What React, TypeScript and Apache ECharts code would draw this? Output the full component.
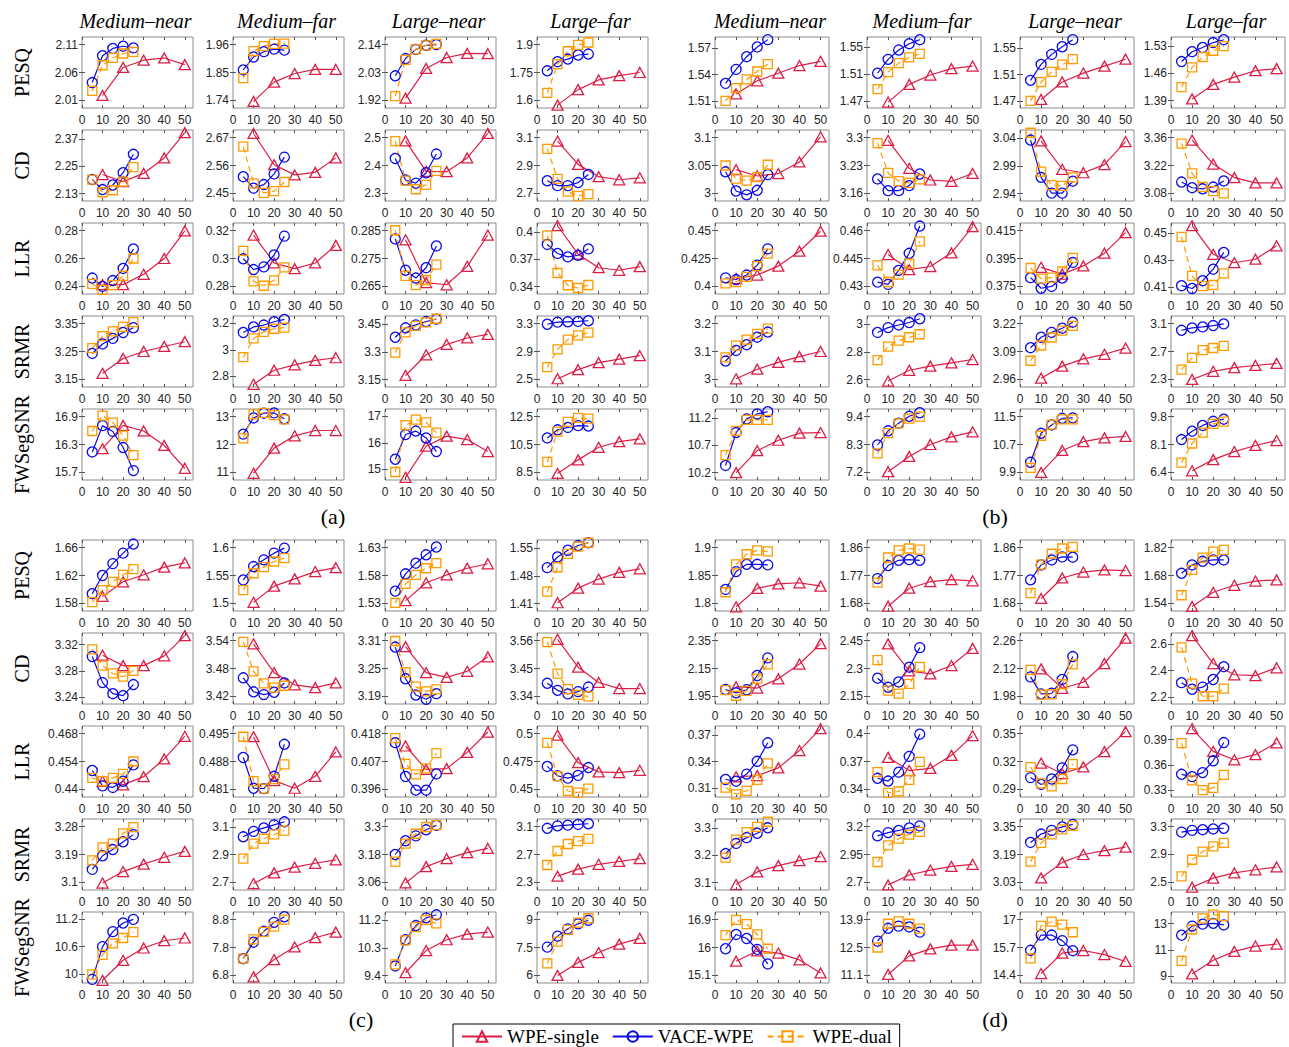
import React, { useEffect, useRef } from 'react';
import * as echarts from 'echarts';

const columns = ['Medium–near', 'Medium–far', 'Large–near', 'Large–far'];
const metrics = ['PESQ', 'CD', 'LLR', 'SRMR', 'FWSegSNR'];
const panelKeys = ['a', 'b', 'c', 'd'];
const panelLabels = ['(a)', '(b)', '(c)', '(d)'];
const seriesNames = ['WPE-single', 'VACE-WPE', 'WPE-dual'];
const xSingle = [10, 20, 30, 40, 50];
const xPair = [5, 10, 15, 20, 25];
const xTicks = [0, 10, 20, 30, 40, 50];

// ---------- panel (a) ----------
const aPESQticks = [[2.01, 2.06, 2.11], [1.74, 1.85, 1.96], [1.92, 2.03, 2.14], [1.6, 1.75, 1.9]];
const aPESQsingle = [[2.019, 2.069, 2.082, 2.086, 2.074], [1.736, 1.812, 1.846, 1.862, 1.862], [1.929, 2.046, 2.089, 2.105, 2.104], [1.575, 1.658, 1.71, 1.733, 1.75]];
const aPESQvace = [[2.042, 2.09, 2.103, 2.107, 2.104], [1.86, 1.911, 1.932, 1.942, 1.938], [2.017, 2.085, 2.121, 2.137, 2.14], [1.759, 1.808, 1.822, 1.844, 1.849]];
const aPESQdual = [[2.027, 2.073, 2.086, 2.094, 2.097], [1.828, 1.934, 1.954, 1.963, 1.964], [1.937, 2.08, 2.121, 2.137, 2.143], [1.641, 1.795, 1.864, 1.898, 1.911]];

const aCDticks = [[2.13, 2.25, 2.37], [2.45, 2.56, 2.67], [2.3, 2.4, 2.5], [2.7, 2.9, 3.1]];
const aCDsingle = [[2.214, 2.183, 2.219, 2.287, 2.398], [2.686, 2.563, 2.523, 2.533, 2.59], [2.488, 2.379, 2.378, 2.427, 2.515], [3.075, 2.908, 2.82, 2.798, 2.812]];
const aCDvace = [[2.192, 2.148, 2.168, 2.222, 2.303], [2.516, 2.471, 2.485, 2.527, 2.593], [2.425, 2.348, 2.337, 2.374, 2.441], [2.791, 2.756, 2.756, 2.778, 2.836]];
const aCDdual = [[2.192, 2.136, 2.145, 2.183, 2.247], [2.634, 2.49, 2.452, 2.459, 2.495], [2.487, 2.346, 2.315, 2.331, 2.381], [3.019, 2.805, 2.713, 2.683, 2.695]];

const aLLRticks = [[0.24, 0.26, 0.28], [0.28, 0.3, 0.32], [0.265, 0.275, 0.285], [0.34, 0.37, 0.4]];
const aLLRsingle = [[0.2413, 0.2413, 0.2487, 0.26, 0.2797], [0.3168, 0.2968, 0.2927, 0.2968, 0.3094], [0.2817, 0.2664, 0.2656, 0.2722, 0.2834], [0.407, 0.3757, 0.3608, 0.358, 0.362]];
const aLLRvace = [[0.246, 0.24, 0.2442, 0.2529, 0.2668], [0.2998, 0.2921, 0.294, 0.3025, 0.316], [0.282, 0.2708, 0.268, 0.2717, 0.2795], [0.3864, 0.3765, 0.3727, 0.3745, 0.3815]];
const aLLRdual = [[0.2418, 0.2376, 0.241, 0.2476, 0.26], [0.3054, 0.2837, 0.2805, 0.2844, 0.2937], [0.2851, 0.2688, 0.2655, 0.2673, 0.2728], [0.3962, 0.355, 0.3415, 0.3385, 0.3418]];

const aSRMRticks = [[3.15, 3.25, 3.35], [2.8, 3, 3.2], [3.15, 3.3, 3.45], [2.5, 2.9, 3.3]];
const aSRMRsingle = [[3.172, 3.225, 3.25, 3.268, 3.285], [2.74, 2.846, 2.887, 2.92, 2.94], [3.172, 3.284, 3.34, 3.375, 3.394], [2.51, 2.64, 2.74, 2.79, 2.84]];
const aSRMRvace = [[3.243, 3.277, 3.297, 3.318, 3.335], [3.13, 3.172, 3.186, 3.211, 3.228], [3.379, 3.43, 3.446, 3.464, 3.477], [3.29, 3.32, 3.325, 3.33, 3.34]];
const aSRMRdual = [[3.262, 3.305, 3.322, 3.338, 3.355], [2.944, 3.085, 3.135, 3.158, 3.166], [3.296, 3.405, 3.44, 3.46, 3.479], [2.676, 2.93, 3.07, 3.13, 3.17]];

const aFWticks = [[15.7, 16.3, 16.9], [11, 12, 13], [15, 16, 17], [8.5, 10.5, 12.5]];
const aFWsingle = [[16.21, 16.71, 16.59, 16.28, 15.79], [10.97, 11.87, 12.31, 12.5, 12.5], [14.7, 15.87, 16.25, 16.12, 15.67], [8.43, 9.4, 10.3, 10.7, 10.9]];
const aFWvace = [[16.14, 16.705, 16.58, 16.235, 15.74], [12.37, 12.95, 13.12, 13.13, 12.92], [15.38, 16.31, 16.44, 16.18, 15.67], [10.97, 11.55, 11.72, 11.85, 11.82]];
const aFWdual = [[16.59, 16.92, 16.77, 16.49, 16.07], [12.22, 13.08, 13.13, 13.05, 12.9], [14.9, 16.66, 16.87, 16.77, 16.38], [9.25, 11.42, 12.12, 12.4, 12.35]];

// ---------- panel (b) ----------
const bPESQticks = [[1.51, 1.54, 1.57], [1.47, 1.51, 1.55], [1.47, 1.51, 1.55], [1.39, 1.46, 1.53]];
const bPESQsingle = [[1.518, 1.533, 1.5416, 1.5504, 1.5552], [1.468, 1.4944, 1.5083, 1.5178, 1.5217], [1.4722, 1.4987, 1.5122, 1.5228, 1.5333], [1.3945, 1.4316, 1.4505, 1.4668, 1.4722]];
const bPESQvace = [[1.53, 1.546, 1.5605, 1.5716, 1.58], [1.511, 1.5317, 1.5456, 1.555, 1.561], [1.5012, 1.5254, 1.5406, 1.5522, 1.563], [1.4903, 1.5156, 1.5264, 1.539, 1.5463]];
const bPESQdual = [[1.51, 1.5245, 1.5345, 1.5436, 1.552], [1.4872, 1.5128, 1.5261, 1.5345, 1.54], [1.47, 1.4987, 1.5139, 1.525, 1.5333], [1.4247, 1.4752, 1.502, 1.518, 1.53]];

const bCDticks = [[3, 3.05, 3.1], [3.16, 3.23, 3.3], [2.94, 2.99, 3.04], [3.08, 3.22, 3.36]];
const bCDsingle = [[3.0425, 3.0312, 3.0356, 3.0563, 3.1013], [3.293, 3.223, 3.1937, 3.19, 3.21], [3.0351, 2.9838, 2.9775, 2.9921, 3.0338], [3.3475, 3.2271, 3.1593, 3.1326, 3.1326]];
const bCDvace = [[3.0387, 3.0044, 2.9975, 3.0056, 3.0337], [3.1963, 3.167, 3.167, 3.1795, 3.2087], [3.0365, 2.9692, 2.9407, 2.9407, 2.9622], [3.1372, 3.1087, 3.1033, 3.1122, 3.1425]];
const bCDdual = [[3.05, 3.0267, 3.0229, 3.0293, 3.0513], [3.2858, 3.2114, 3.191, 3.1866, 3.1954], [3.0497, 2.9796, 2.9553, 2.9539, 2.9692], [3.3297, 3.1808, 3.1131, 3.0917, 3.08]];

const bLLRticks = [[0.4, 0.425, 0.45], [0.43, 0.445, 0.46], [0.375, 0.395, 0.415], [0.41, 0.43, 0.45]];
const bLLRsingle = [[0.4071, 0.4102, 0.4182, 0.4315, 0.4494], [0.4471, 0.439, 0.4407, 0.448, 0.4621], [0.3887, 0.3838, 0.3897, 0.3988, 0.4135], [0.4555, 0.4342, 0.4279, 0.4305, 0.4405]];
const bLLRvace = [[0.4077, 0.4062, 0.4102, 0.4191, 0.4336], [0.4323, 0.4311, 0.4386, 0.4478, 0.4624], [0.3813, 0.3737, 0.375, 0.381, 0.3922], [0.4108, 0.4087, 0.4145, 0.4231, 0.4356]];
const bLLRdual = [[0.4028, 0.404, 0.4086, 0.4182, 0.4293], [0.4413, 0.4324, 0.4364, 0.4422, 0.4542], [0.3882, 0.3806, 0.3813, 0.3857, 0.3955], [0.4471, 0.4181, 0.4105, 0.4113, 0.4199]];

const bSRMRticks = [[3, 3.1, 3.2], [2.6, 2.8, 3], [2.96, 3.09, 3.22], [2.3, 2.7, 3.1]];
const bSRMRsingle = [[3.0024, 3.0366, 3.061, 3.0817, 3.1], [2.589, 2.667, 2.697, 2.721, 2.745], [2.966, 3.022, 3.056, 3.077, 3.106], [2.3, 2.416, 2.469, 2.5, 2.53]];
const bSRMRvace = [[3.0659, 3.1037, 3.1244, 3.1512, 3.1695], [2.941, 2.976, 2.995, 3.013, 3.04], [3.1076, 3.1562, 3.1789, 3.1983, 3.2264], [3.0036, 3.037, 3.052, 3.071, 3.095]];
const bSRMRdual = [[3.0793, 3.1207, 3.1427, 3.1634, 3.1817], [2.741, 2.839, 2.882, 2.906, 2.928], [3.0469, 3.118, 3.155, 3.187, 3.209], [2.44, 2.609, 2.72, 2.75, 2.78]];

const bFWticks = [[10.2, 10.7, 11.2], [7.2, 8.3, 9.4], [9.9, 10.7, 11.5], [6.4, 8.1, 9.8]];
const bFWsingle = [[10.2, 10.6, 10.79, 10.92, 10.93], [7.23, 7.83, 8.3, 8.6, 8.8], [9.9, 10.53, 10.78, 10.89, 10.93], [6.5, 7.18, 7.67, 8.04, 8.34]];
const bFWvace = [[10.33, 10.93, 11.18, 11.27, 11.31], [8.28, 8.84, 9.14, 9.41, 9.55], [10.19, 11.02, 11.26, 11.45, 11.46], [8.4, 8.91, 9.26, 9.51, 9.64]];
const bFWdual = [[10.52, 10.96, 11.16, 11.16, 11.16], [7.95, 8.75, 9.13, 9.32, 9.4], [10.03, 10.95, 11.27, 11.42, 11.42], [7.0, 8.16, 8.82, 9.35, 9.49]];

// ---------- panel (c) ----------
const cPESQticks = [[1.58, 1.62, 1.66], [1.5, 1.55, 1.6], [1.53, 1.58, 1.63], [1.41, 1.48, 1.55]];
const cPESQsingle = [[1.59, 1.611, 1.621, 1.632, 1.638], [1.502, 1.531, 1.544, 1.557, 1.564], [1.535, 1.567, 1.581, 1.593, 1.601], [1.412, 1.449, 1.472, 1.489, 1.498]];
const cPESQvace = [[1.594, 1.62, 1.637, 1.652, 1.665], [1.542, 1.566, 1.578, 1.59, 1.599], [1.552, 1.583, 1.602, 1.617, 1.631], [1.501, 1.528, 1.545, 1.557, 1.564]];
const cPESQdual = [[1.582, 1.599, 1.611, 1.621, 1.629], [1.524, 1.554, 1.565, 1.575, 1.581], [1.531, 1.565, 1.581, 1.593, 1.602], [1.44, 1.502, 1.536, 1.554, 1.564]];

const cCDticks = [[3.24, 3.28, 3.32], [3.42, 3.48, 3.54], [3.19, 3.25, 3.31], [3.34, 3.45, 3.56]];
const cCDsingle = [[3.304, 3.288, 3.288, 3.303, 3.334], [3.533, 3.471, 3.445, 3.439, 3.449], [3.297, 3.241, 3.231, 3.244, 3.275], [3.565, 3.455, 3.395, 3.371, 3.371]];
const cCDvace = [[3.302, 3.262, 3.245, 3.242, 3.259], [3.46, 3.43, 3.424, 3.429, 3.449], [3.296, 3.228, 3.193, 3.184, 3.196], [3.392, 3.364, 3.35, 3.359, 3.377]];
const cCDdual = [[3.313, 3.288, 3.276, 3.271, 3.28], [3.537, 3.474, 3.448, 3.439, 3.443], [3.309, 3.242, 3.211, 3.201, 3.205], [3.554, 3.43, 3.369, 3.346, 3.34]];

const cLLRticks = [[0.44, 0.454, 0.468], [0.481, 0.488, 0.495], [0.396, 0.407, 0.418], [0.45, 0.475, 0.5]];
const cLLRsingle = [[0.4441, 0.4423, 0.4464, 0.4553, 0.4666], [0.4942, 0.4832, 0.4813, 0.4843, 0.4904], [0.4131, 0.4039, 0.4042, 0.4106, 0.4186], [0.4986, 0.474, 0.4657, 0.465, 0.4671]];
const cLLRvace = [[0.4495, 0.4418, 0.441, 0.4441, 0.4523], [0.489, 0.4813, 0.4812, 0.4843, 0.4923], [0.4144, 0.4011, 0.3957, 0.3957, 0.4021], [0.4706, 0.4622, 0.4601, 0.4626, 0.4696]];
const cLLRdual = [[0.4458, 0.4441, 0.4458, 0.4478, 0.454], [0.4942, 0.4831, 0.4812, 0.4836, 0.4873], [0.4162, 0.4061, 0.4019, 0.4043, 0.4103], [0.4916, 0.4619, 0.4486, 0.4472, 0.4507]];

const cSRMRticks = [[3.1, 3.19, 3.28], [2.7, 2.9, 3.1], [3.06, 3.18, 3.3], [2.3, 2.7, 3.1]];
const cSRMRsingle = [[3.098, 3.135, 3.159, 3.181, 3.2], [2.692, 2.769, 2.81, 2.838, 2.862], [3.058, 3.128, 3.162, 3.188, 3.206], [2.39, 2.49, 2.56, 2.6, 2.64]];
const cSRMRvace = [[3.142, 3.186, 3.206, 3.231, 3.254], [3.028, 3.067, 3.092, 3.114, 3.136], [3.18, 3.239, 3.26, 3.286, 3.305], [3.075, 3.11, 3.12, 3.13, 3.14]];
const cSRMRdual = [[3.171, 3.213, 3.225, 3.258, 3.278], [2.872, 2.979, 3.014, 3.045, 3.072], [3.149, 3.227, 3.269, 3.298, 3.306], [2.55, 2.75, 2.85, 2.89, 2.925]];

const cFWticks = [[10, 10.6, 11.2], [6.8, 7.8, 8.8], [9.4, 10.3, 11.2], [6, 7.5, 9]];
const cFWsingle = [[9.86, 10.3, 10.57, 10.73, 10.79], [6.75, 7.37, 7.82, 8.15, 8.35], [9.49, 10.21, 10.56, 10.74, 10.81], [6.0, 6.7, 7.23, 7.68, 7.99]];
const cFWvace = [[9.88, 10.6, 10.93, 11.12, 11.2], [7.4, 7.99, 8.38, 8.7, 8.9], [9.71, 10.56, 11.02, 11.27, 11.37], [7.52, 8.11, 8.5, 8.77, 8.96]];
const cFWdual = [[9.99, 10.42, 10.67, 10.79, 10.92], [7.4, 8.09, 8.36, 8.55, 8.8], [9.76, 10.54, 10.97, 11.2, 11.09], [6.65, 7.82, 8.45, 8.84, 9.07]];

// ---------- panel (d) ----------
const dPESQticks = [[1.8, 1.85, 1.9], [1.68, 1.77, 1.86], [1.68, 1.77, 1.86], [1.54, 1.68, 1.82]];
const dPESQsingle = [[1.794, 1.827, 1.835, 1.837, 1.831], [1.671, 1.729, 1.75, 1.757, 1.753], [1.696, 1.762, 1.781, 1.788, 1.786], [1.525, 1.596, 1.631, 1.652, 1.658]];
const dPESQvace = [[1.825, 1.857, 1.87, 1.87, 1.869], [1.76, 1.802, 1.819, 1.821, 1.819], [1.756, 1.804, 1.82, 1.83, 1.829], [1.691, 1.733, 1.751, 1.758, 1.758]];
const dPESQdual = [[1.82, 1.87, 1.888, 1.895, 1.893], [1.747, 1.828, 1.851, 1.857, 1.853], [1.713, 1.805, 1.84, 1.857, 1.862], [1.581, 1.708, 1.77, 1.8, 1.808]];

const dCDticks = [[1.95, 2.15, 2.35], [2.15, 2.3, 2.45], [1.98, 2.12, 2.26], [2.2, 2.4, 2.6]];
const dCDsingle = [[2.02, 2.01, 2.076, 2.182, 2.328], [2.432, 2.287, 2.271, 2.316, 2.408], [2.118, 2.021, 2.051, 2.145, 2.272], [2.665, 2.453, 2.368, 2.361, 2.421]];
const dCDvace = [[2.0, 1.976, 1.998, 2.1, 2.226], [2.248, 2.199, 2.228, 2.307, 2.412], [2.078, 1.993, 1.996, 2.065, 2.18], [2.308, 2.258, 2.274, 2.332, 2.429]];
const dCDdual = [[1.995, 1.955, 1.99, 2.078, 2.18], [2.345, 2.181, 2.165, 2.217, 2.309], [2.113, 1.989, 1.991, 2.041, 2.141], [2.576, 2.3, 2.205, 2.205, 2.263]];

const dLLRticks = [[0.31, 0.34, 0.37], [0.34, 0.37, 0.4], [0.29, 0.32, 0.35], [0.33, 0.36, 0.39]];
const dLLRsingle = [[0.323, 0.3243, 0.333, 0.3525, 0.3772], [0.3744, 0.3603, 0.3626, 0.3766, 0.3978], [0.3182, 0.3069, 0.3142, 0.3306, 0.352], [0.403, 0.376, 0.366, 0.372, 0.386]];
const dLLRvace = [[0.3199, 0.318, 0.326, 0.3404, 0.3613], [0.352, 0.349, 0.3585, 0.3755, 0.3993], [0.3027, 0.2954, 0.3012, 0.3132, 0.3325], [0.3488, 0.346, 0.3508, 0.3648, 0.3864]];
const dLLRdual = [[0.3108, 0.3032, 0.3072, 0.3195, 0.338], [0.3585, 0.3363, 0.3378, 0.3503, 0.3697], [0.3139, 0.2965, 0.2933, 0.3012, 0.3172], [0.3856, 0.3416, 0.33, 0.3328, 0.348]];

const dSRMRticks = [[3.1, 3.2, 3.3], [2.7, 2.95, 3.2], [3.03, 3.19, 3.35], [2.5, 2.9, 3.3]];
const dSRMRsingle = [[3.093, 3.139, 3.162, 3.18, 3.195], [2.678, 2.767, 2.811, 2.843, 2.862], [3.056, 3.145, 3.19, 3.212, 3.232], [2.43, 2.56, 2.635, 2.68, 2.72]];
const dSRMRvace = [[3.206, 3.243, 3.264, 3.28, 3.3], [3.117, 3.146, 3.165, 3.187, 3.206], [3.259, 3.307, 3.328, 3.348, 3.362], [3.22, 3.245, 3.255, 3.265, 3.275]];
const dSRMRdual = [[3.191, 3.257, 3.284, 3.303, 3.322], [2.883, 3.031, 3.092, 3.127, 3.152], [3.149, 3.257, 3.305, 3.334, 3.354], [2.586, 2.824, 2.94, 3.016, 3.067]];

const dFWticks = [[15.1, 16, 16.9], [11.1, 12.5, 13.9], [14.4, 15.7, 17], [9, 11, 13]];
const dFWsingle = [[15.56, 15.89, 15.82, 15.6, 15.18], [11.15, 12.08, 12.43, 12.62, 12.62], [14.49, 15.44, 15.56, 15.37, 15.05], [9.15, 10.2, 10.88, 11.29, 11.44]];
const dFWvace = [[15.96, 16.42, 16.29, 15.94, 15.47], [12.82, 13.46, 13.57, 13.53, 13.27], [15.57, 16.28, 16.28, 16.02, 15.55], [12.12, 12.82, 12.97, 13.03, 12.91]];
const dFWdual = [[16.4, 16.89, 16.75, 16.42, 15.96], [12.5, 13.69, 13.81, 13.69, 13.45], [15.19, 16.71, 16.9, 16.76, 16.41], [10.15, 12.56, 13.41, 13.7, 13.59]];

type Cell = { ticks: number[]; single: number[]; vace: number[]; dual: number[] };
function cells(t: number[][], s: number[][], v: number[][], d: number[][]): Cell[] {
  return t.map((tk, i) => ({ ticks: tk, single: s[i], vace: v[i], dual: d[i] }));
}

const panelData: Record<string, Cell[][]> = {
  a: [
    cells(aPESQticks, aPESQsingle, aPESQvace, aPESQdual),
    cells(aCDticks, aCDsingle, aCDvace, aCDdual),
    cells(aLLRticks, aLLRsingle, aLLRvace, aLLRdual),
    cells(aSRMRticks, aSRMRsingle, aSRMRvace, aSRMRdual),
    cells(aFWticks, aFWsingle, aFWvace, aFWdual),
  ],
  b: [
    cells(bPESQticks, bPESQsingle, bPESQvace, bPESQdual),
    cells(bCDticks, bCDsingle, bCDvace, bCDdual),
    cells(bLLRticks, bLLRsingle, bLLRvace, bLLRdual),
    cells(bSRMRticks, bSRMRsingle, bSRMRvace, bSRMRdual),
    cells(bFWticks, bFWsingle, bFWvace, bFWdual),
  ],
  c: [
    cells(cPESQticks, cPESQsingle, cPESQvace, cPESQdual),
    cells(cCDticks, cCDsingle, cCDvace, cCDdual),
    cells(cLLRticks, cLLRsingle, cLLRvace, cLLRdual),
    cells(cSRMRticks, cSRMRsingle, cSRMRvace, cSRMRdual),
    cells(cFWticks, cFWsingle, cFWvace, cFWdual),
  ],
  d: [
    cells(dPESQticks, dPESQsingle, dPESQvace, dPESQdual),
    cells(dCDticks, dCDsingle, dCDvace, dCDdual),
    cells(dLLRticks, dLLRsingle, dLLRvace, dLLRdual),
    cells(dSRMRticks, dSRMRsingle, dSRMRvace, dSRMRdual),
    cells(dFWticks, dFWsingle, dFWvace, dFWdual),
  ],
};

// ---------- layout & style ----------
const LAYOUT: Record<string, { lefts: number[]; width: number; top: number; labelX: number; labelY: number; titleRow: boolean; rowLabels: boolean }> = {
  a: { lefts: [82, 233, 385, 537], width: 111, top: 37, labelX: 333, labelY: 516, titleRow: true, rowLabels: true },
  b: { lefts: [715, 867, 1020, 1171], width: 114, top: 37, labelX: 995, labelY: 516, titleRow: true, rowLabels: false },
  c: { lefts: [82, 233, 385, 537], width: 111, top: 540, labelX: 361, labelY: 1019, titleRow: false, rowLabels: true },
  d: { lefts: [715, 867, 1020, 1171], width: 114, top: 540, labelX: 995, labelY: 1019, titleRow: false, rowLabels: false },
};
const ROW_PITCH = 93;
const FRAME_H = 71;
const X_MAX = 54;
const RED = '#DC1E46';
const BLUE = '#0A0AE6';
const ORANGE = '#FF9A00';
const SANS = "'Liberation Sans', Arial, sans-serif";
const SERIF = "'Liberation Serif', 'Times New Roman', serif";

function fmt(v: number) {
  return String(Number(Number(v).toPrecision(6)));
}

function buildOption() {
  const grid: any[] = [];
  const xAxis: any[] = [];
  const yAxis: any[] = [];
  const series: any[] = [];
  const graphic: any[] = [];
  let idx = 0;
  const tickStyle = { color: '#555', width: 1 };

  panelKeys.forEach((pk, pi) => {
    const L = LAYOUT[pk];
    const rows = panelData[pk];
    rows.forEach((row, ri) => {
      const top = L.top + ri * ROW_PITCH;
      row.forEach((cell, ci) => {
        grid.push({
          left: L.lefts[ci], top, width: L.width, height: FRAME_H,
          show: true, borderColor: '#8c8c8c', borderWidth: 1, backgroundColor: 'transparent',
        });
        const t = cell.ticks;
        const span = t[2] - t[0];
        const pad = span * 0.135;
        const all = [...cell.single, ...cell.vace, ...cell.dual];
        const ymin = Math.min(t[0] - pad, Math.min(...all) - span * 0.05);
        const ymax = Math.max(t[2] + pad, Math.max(...all) + span * 0.05);
        const xi = xAxis.length;
        const yi = yAxis.length;
        xAxis.push({
          type: 'value', gridIndex: idx, min: 0, max: X_MAX, position: 'bottom',
          axisLine: { show: false },
          axisTick: { show: true, inside: true, length: 3, customValues: xTicks, lineStyle: tickStyle },
          axisLabel: { customValues: xTicks, fontFamily: SANS, fontSize: 12, color: '#262626', margin: 6 },
          splitLine: { show: false },
        });
        xAxis.push({
          type: 'value', gridIndex: idx, min: 0, max: X_MAX, position: 'top',
          axisLine: { show: false },
          axisTick: { show: true, inside: true, length: 3, customValues: xTicks, lineStyle: tickStyle },
          axisLabel: { show: false },
          splitLine: { show: false },
        });
        yAxis.push({
          type: 'value', gridIndex: idx, min: ymin, max: ymax, position: 'left',
          axisLine: { show: false },
          axisTick: { show: true, inside: true, length: 3, customValues: t, lineStyle: tickStyle },
          axisLabel: { customValues: t, fontFamily: SANS, fontSize: 12, color: '#262626', margin: 4, formatter: (v: number) => fmt(v) },
          splitLine: { show: false },
        });
        yAxis.push({
          type: 'value', gridIndex: idx, min: ymin, max: ymax, position: 'right',
          axisLine: { show: false },
          axisTick: { show: true, inside: true, length: 3, customValues: t, lineStyle: tickStyle },
          axisLabel: { show: false },
          splitLine: { show: false },
        });
        const common = { type: 'line', xAxisIndex: xi, yAxisIndex: yi, clip: false, silent: true, animation: false, emphasis: { disabled: true } };
        series.push({
          ...common, name: seriesNames[0],
          data: xSingle.map((x, k) => [x, cell.single[k]]),
          symbol: 'triangle', symbolSize: [11, 10],
          lineStyle: { color: RED, width: 1.2 },
          itemStyle: { color: 'rgba(255,255,255,0)', borderColor: RED, borderWidth: 1.3 },
        });
        series.push({
          ...common, name: seriesNames[1],
          data: xPair.map((x, k) => [x, cell.vace[k]]),
          symbol: 'circle', symbolSize: 10,
          lineStyle: { color: BLUE, width: 1.2 },
          itemStyle: { color: 'rgba(255,255,255,0)', borderColor: BLUE, borderWidth: 1.3 },
        });
        series.push({
          ...common, name: seriesNames[2],
          data: xPair.map((x, k) => [x, cell.dual[k]]),
          symbol: 'rect', symbolSize: 9,
          lineStyle: { color: ORANGE, width: 1.2, type: [6, 4] },
          itemStyle: { color: 'rgba(255,255,255,0)', borderColor: ORANGE, borderWidth: 1.3 },
        });
        idx++;
        if (L.titleRow && ri === 0) {
          graphic.push({
            type: 'text', x: L.lefts[ci] + L.width / 2 - 2, y: 21,
            style: { text: columns[ci], font: `italic 20px ${SERIF}`, fill: '#000', textAlign: 'center', textVerticalAlign: 'middle' },
          });
        }
      });
      if (L.rowLabels) {
        graphic.push({
          type: 'text', x: 22, y: top + FRAME_H / 2, rotation: Math.PI / 2,
          style: { text: metrics[ri], font: `20px ${SERIF}`, fill: '#000', textAlign: 'center', textVerticalAlign: 'middle' },
        });
      }
    });
    graphic.push({
      type: 'text', x: L.labelX, y: L.labelY,
      style: { text: panelLabels[pi], font: `22px ${SERIF}`, fill: '#000', textAlign: 'center', textVerticalAlign: 'middle' },
    });
  });

  return {
    animation: false,
    backgroundColor: '#fff',
    grid, xAxis, yAxis, series, graphic,
    legend: {
      data: seriesNames, left: 453, top: 1024, orient: 'horizontal',
      itemWidth: 40, itemHeight: 13, itemGap: 13,
      borderColor: '#000', borderWidth: 1, padding: [3, 8, 3, 8],
      selectedMode: false,
      textStyle: { fontFamily: SERIF, fontSize: 19, color: '#000' },
    },
  };
}

export default function App() {
  const ref = useRef<HTMLDivElement>(null);
  useEffect(() => {
    if (!ref.current) return;
    const chart = echarts.init(ref.current, null, { renderer: 'svg' });
    chart.setOption(buildOption() as any);
    return () => chart.dispose();
  }, []);
  return (
    <div
      ref={ref}
      style={{ position: 'fixed', left: 0, top: 0, width: 1289, height: 1047, background: '#fff' }}
    />
  );
}
